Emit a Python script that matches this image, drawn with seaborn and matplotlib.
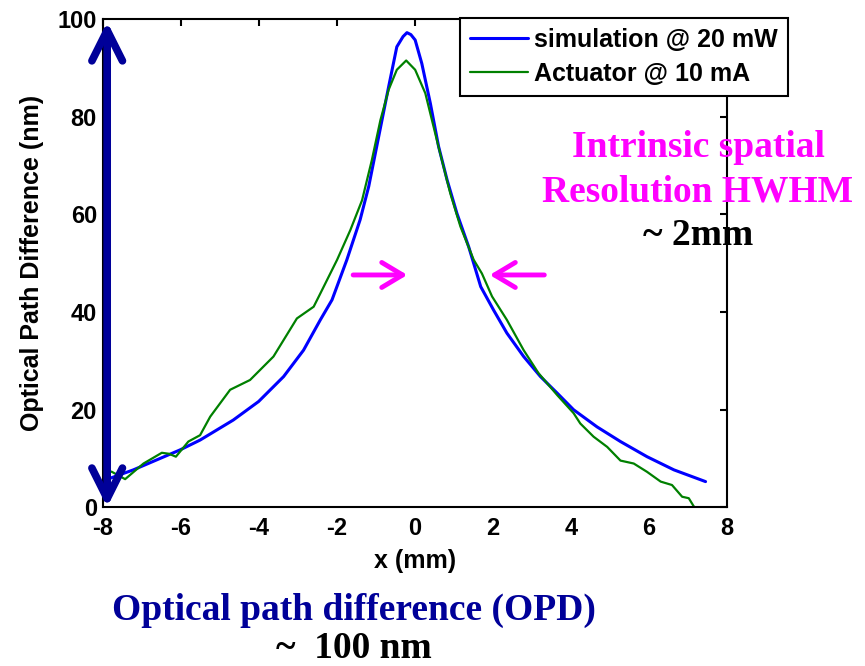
import numpy as np
import pandas as pd
import matplotlib
matplotlib.use("Agg")
import matplotlib.pyplot as plt
from matplotlib.patches import FancyArrowPatch
import seaborn as sns

# values
sim_x = [-7.8, -7.21, -6.01, -5.5, -4.65, -4.0, -3.36, -2.85, -2.42, -2.12, -1.74, -1.4,
         -1.18, -1.01, -0.84, -0.67, -0.46, -0.3, -0.2, -0.1, 0.01, 0.18, 0.4, 0.61, 0.83,
         1.08, 1.38, 1.69, 2.02, 2.36, 2.79, 3.22, 3.65, 4.07, 4.67, 5.27, 5.95, 6.64, 7.45]
sim_y = [6.0, 7.7, 11.8, 13.8, 17.9, 21.7, 26.8, 32.2, 38.4, 42.5, 50.7, 58.9,
         65.7, 72.5, 79.3, 86.1, 94.3, 96.4, 97.2, 96.8, 95.7, 90.9, 82.7, 73.9, 67.0,
         60.2, 53.4, 45.2, 40.4, 35.7, 30.9, 26.8, 23.4, 20.0, 16.5, 13.5, 10.4, 7.7, 5.3]

act_x = [-7.9, -7.76, -7.42, -6.95, -6.48, -6.3, -6.12, -5.8, -5.5, -5.24, -4.73, -4.22,
         -3.62, -3.02, -2.59, -2.42, -1.99, -1.65, -1.35, -1.1, -0.88, -0.67, -0.46, -0.22,
         0.01, 0.27, 0.44, 0.65, 0.91, 1.17, 1.51, 1.72, 1.98, 2.36, 2.79, 3.17, 3.65, 4.07,
         4.24, 4.58, 4.93, 5.27, 5.61, 5.95, 6.3, 6.59, 6.85, 7.02, 7.15]
act_y = [7.6, 7.3, 5.8, 9.0, 11.2, 11.0, 10.4, 13.5, 14.8, 18.6, 24.1, 26.1,
         30.9, 38.7, 41.1, 43.8, 50.7, 56.8, 62.9, 71.1, 79.3, 85.5, 89.6, 91.5,
         89.6, 84.8, 79.3, 72.5, 64.3, 57.5, 50.7, 47.9, 43.2, 38.4, 32.2, 27.5, 23.0, 19.3,
         17.2, 14.5, 12.4, 9.6, 9.0, 7.3, 5.3, 4.6, 2.2, 1.9, 0.2]

x_ticks = [-8, -6, -4, -2, 0, 2, 4, 6, 8]
y_ticks = [0, 20, 40, 60, 80, 100]

sns.set_style("white")
plt.rcParams['font.family'] = ['Liberation Sans', 'DejaVu Sans']
plt.rcParams['xtick.direction'] = 'in'
plt.rcParams['ytick.direction'] = 'in'
plt.rcParams['axes.unicode_minus'] = False
for key in ['text.color', 'axes.labelcolor', 'xtick.color', 'ytick.color', 'axes.edgecolor']:
    plt.rcParams[key] = 'black'

fig = plt.figure(figsize=(8.65, 6.66), dpi=100)
ax = fig.add_axes([0.1185, 0.238, 0.722, 0.7335])

sim = pd.DataFrame({'x': sim_x, 'y': sim_y})
act = pd.DataFrame({'x': act_x, 'y': act_y})
sns.lineplot(data=sim, x='x', y='y', ax=ax, color='#0000FF', lw=2.2,
             sort=False, estimator=None, label='simulation @ 20 mW')
sns.lineplot(data=act, x='x', y='y', ax=ax, color='#008000', lw=1.6,
             sort=False, estimator=None, label='Actuator @ 10 mA')

ax.set_xlim(-8, 8)
ax.set_ylim(0, 100)
ax.set_xticks(x_ticks)
ax.set_yticks(y_ticks)
ax.tick_params(axis='both', which='both', top=True, right=True, length=5, width=1.5,
               labelsize=17)
ax.tick_params(axis='x', pad=7)
ax.tick_params(axis='y', pad=4)
for lab in ax.get_xticklabels() + ax.get_yticklabels():
    lab.set_fontweight('bold')
for sp in ax.spines.values():
    sp.set_linewidth(1.5)
    sp.set_color('black')

ax.set_xlabel('x (mm)', fontsize=18, fontweight='bold', va='center')
ax.set_ylabel('Optical Path Difference (nm)', fontsize=18, fontweight='bold', va='center')
ax.xaxis.set_label_coords(0.5, -0.11)
ax.yaxis.set_label_coords(-0.113, 0.5)

leg = ax.legend(loc='upper left', bbox_to_anchor=(0.532, 0.973), bbox_transform=fig.transFigure,
                borderaxespad=0, fancybox=False, framealpha=1, edgecolor='black',
                prop={'weight': 'bold', 'size': 18}, handlelength=2.3, handletextpad=0.25,
                borderpad=0.4, labelspacing=0.4)
leg.get_frame().set_linewidth(1.5)

# double-headed OPD arrow
opd = FancyArrowPatch((-7.88, -0.5), (-7.88, 100), arrowstyle='<->,head_length=1.0,head_width=0.5',
                      mutation_scale=22, lw=5.5, color='#000099', clip_on=False, zorder=5,
                      capstyle='round', joinstyle='round')
ax.add_patch(opd)

# HWHM arrows
for tail, head in [(-1.65, -0.12), (3.39, 1.85)]:
    ax.add_patch(FancyArrowPatch((tail, 47.6), (head, 47.6), arrowstyle='->,head_length=0.75,head_width=0.45',
                                 mutation_scale=20, lw=3.5, color='#FF00FF', zorder=5))

serif = ['Liberation Serif', 'DejaVu Serif']
fig.text(0.807, 0.7643, 'Intrinsic spatial', color='#FF00FF', fontsize=27, fontweight='bold',
         family=serif, ha='center', va='baseline')
fig.text(0.807, 0.6967, 'Resolution HWHM', color='#FF00FF', fontsize=27, fontweight='bold',
         family=serif, ha='center', va='baseline')
fig.text(0.807, 0.6321, '~ 2mm', color='black', fontsize=27, fontweight='bold',
         family=serif, ha='center', va='baseline')
fig.text(0.409, 0.069, 'Optical path difference (OPD)', color='#000099', fontsize=27,
         fontweight='bold', family=serif, ha='center', va='baseline')
fig.text(0.409, 0.012, '~  100 nm', color='black', fontsize=27, fontweight='bold',
         family=serif, ha='center', va='baseline')

fig.savefig('out.png', dpi=100)
